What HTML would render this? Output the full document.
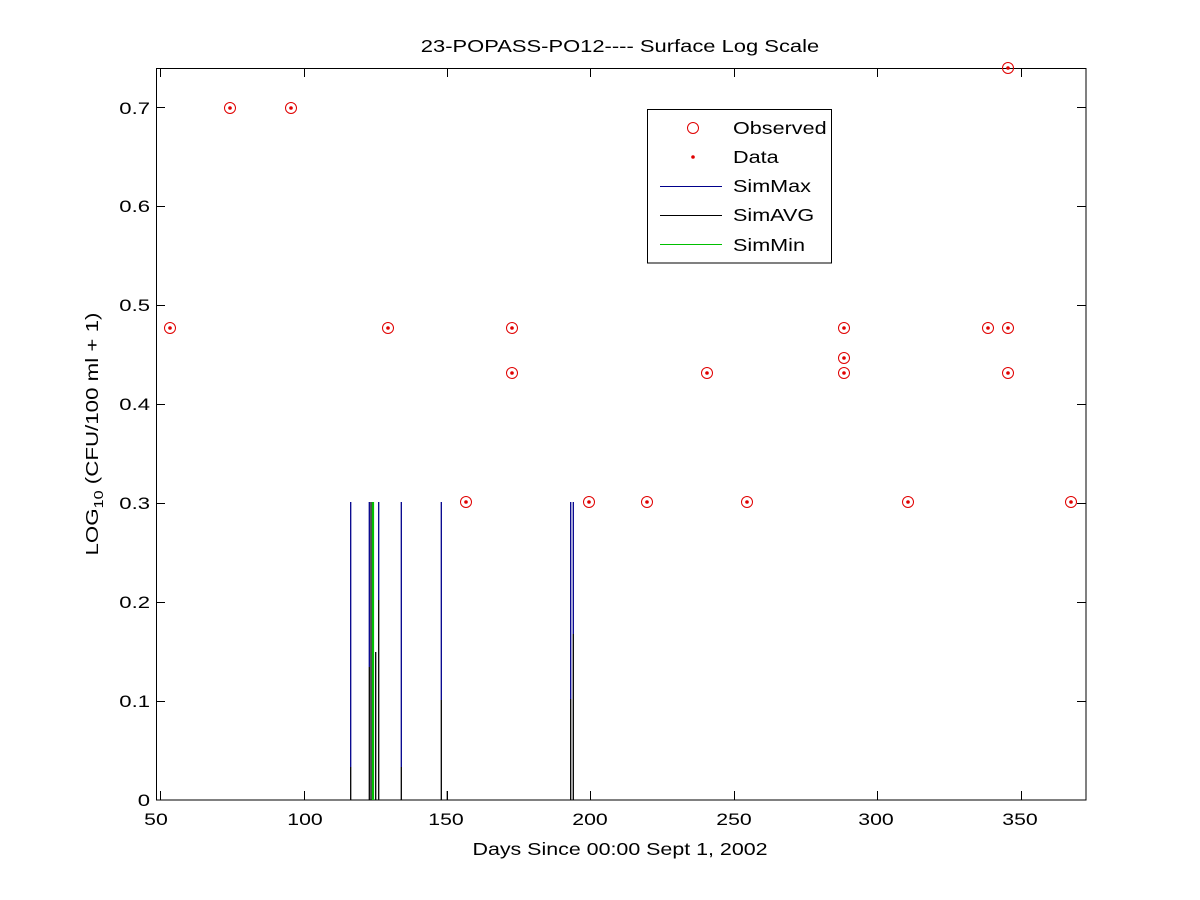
<!DOCTYPE html>
<html><head><meta charset="utf-8"><style>body{margin:0;background:#fff}svg{display:block}text{font-family:"Liberation Sans",Arial,sans-serif;fill:#000}</style></head>
<body>
<svg width="1200" height="900" viewBox="0 0 1200 900" xmlns="http://www.w3.org/2000/svg">
<rect width="1200" height="900" fill="#fff"/>
<rect x="156.5" y="68.5" width="929.5" height="731.5" fill="#fff" stroke="#000" stroke-width="1"/>
<g stroke="#000" stroke-width="1">
<path d="M160.5 800v-9M160.5 68v9M304.5 800v-9M304.5 68v9M447.5 800v-9M447.5 68v9M590.5 800v-9M590.5 68v9M734.5 800v-9M734.5 68v9M877.5 800v-9M877.5 68v9M1021.5 800v-9M1021.5 68v9"/>
<path d="M156 701.5h9M1086 701.5h-9M156 602.5h9M1086 602.5h-9M156 503.5h9M1086 503.5h-9M156 404.5h9M1086 404.5h-9M156 305.5h9M1086 305.5h-9M156 206.5h9M1086 206.5h-9M156 107.5h9M1086 107.5h-9"/>
</g>
<g font-size="17" text-anchor="middle">
<text transform="translate(156,825) scale(1.25,1)">50</text>
<text transform="translate(305,825) scale(1.25,1)">100</text>
<text transform="translate(446,825) scale(1.25,1)">150</text>
<text transform="translate(590,825) scale(1.25,1)">200</text>
<text transform="translate(734,825) scale(1.25,1)">250</text>
<text transform="translate(876,825) scale(1.25,1)">300</text>
<text transform="translate(1020,825) scale(1.25,1)">350</text>
</g>
<g font-size="17" text-anchor="end">
<text transform="translate(150,806) scale(1.3,1)">0</text>
<text transform="translate(150,707) scale(1.3,1)">0.1</text>
<text transform="translate(150,608) scale(1.3,1)">0.2</text>
<text transform="translate(150,509) scale(1.3,1)">0.3</text>
<text transform="translate(150,410) scale(1.3,1)">0.4</text>
<text transform="translate(150,311) scale(1.3,1)">0.5</text>
<text transform="translate(150,212) scale(1.3,1)">0.6</text>
<text transform="translate(150,114) scale(1.3,1)">0.7</text>
</g>
<text transform="translate(620,52) scale(1.22,1)" font-size="18" text-anchor="middle">23-POPASS-PO12---- Surface Log Scale</text>
<text transform="translate(620,855) scale(1.19,1)" font-size="18" text-anchor="middle">Days Since 00:00 Sept 1, 2002</text>
<text transform="translate(98,434) rotate(-90) scale(1.24,1)" font-size="18" text-anchor="middle">LOG<tspan font-size="13" dy="5">10</tspan><tspan dy="-5"> (CFU/100 ml + 1)</tspan></text>
<g stroke-width="1.3">
<path stroke="#00008b" d="M350.7 502V767M369.3 502V667M378.7 502V600M401.3 502V767M441.3 502V700M570.7 502V699M573.3 502V634"/>
<path stroke="#000" d="M350.7 767V800M369.3 667V800M378.7 600V800M401.3 767V800M441.3 700V800M570.7 699V800M573.3 634V800M375.7 652V800M447.3 791V800M371 502V800"/>
<path stroke="#00c000" stroke-width="2.2" d="M373 502V800"/>
</g>
<g fill="none" stroke="#e00000" stroke-width="1">
<circle cx="170" cy="328" r="5.5"/><circle cx="230" cy="108" r="5.5"/><circle cx="291" cy="108" r="5.5"/><circle cx="388" cy="328" r="5.5"/><circle cx="466" cy="502" r="5.5"/><circle cx="512" cy="328" r="5.5"/><circle cx="512" cy="373" r="5.5"/><circle cx="589" cy="502" r="5.5"/><circle cx="647" cy="502" r="5.5"/><circle cx="707" cy="373" r="5.5"/><circle cx="747" cy="502" r="5.5"/><circle cx="844" cy="328" r="5.5"/><circle cx="844" cy="358" r="5.5"/><circle cx="844" cy="373" r="5.5"/><circle cx="908" cy="502" r="5.5"/><circle cx="988" cy="328" r="5.5"/><circle cx="1008" cy="68" r="5.5"/><circle cx="1008" cy="328" r="5.5"/><circle cx="1008" cy="373" r="5.5"/><circle cx="1071" cy="502" r="5.5"/>
</g>
<g fill="#e00000">
<circle cx="170" cy="328" r="1.8"/><circle cx="230" cy="108" r="1.8"/><circle cx="291" cy="108" r="1.8"/><circle cx="388" cy="328" r="1.8"/><circle cx="466" cy="502" r="1.8"/><circle cx="512" cy="328" r="1.8"/><circle cx="512" cy="373" r="1.8"/><circle cx="589" cy="502" r="1.8"/><circle cx="647" cy="502" r="1.8"/><circle cx="707" cy="373" r="1.8"/><circle cx="747" cy="502" r="1.8"/><circle cx="844" cy="328" r="1.8"/><circle cx="844" cy="358" r="1.8"/><circle cx="844" cy="373" r="1.8"/><circle cx="908" cy="502" r="1.8"/><circle cx="988" cy="328" r="1.8"/><circle cx="1008" cy="68" r="1.8"/><circle cx="1008" cy="328" r="1.8"/><circle cx="1008" cy="373" r="1.8"/><circle cx="1071" cy="502" r="1.8"/>
</g>
<rect x="647.5" y="109.5" width="184" height="153.5" fill="#fff" stroke="#000"/>
<circle cx="693" cy="128" r="5.5" fill="none" stroke="#e00000"/>
<circle cx="693" cy="157" r="1.8" fill="#e00000"/>
<path d="M660 186.5h62" stroke="#00008b"/>
<path d="M660 215.5h62" stroke="#000"/>
<path d="M660 244.5h62" stroke="#00c000"/>
<g font-size="18">
<text transform="translate(733,134) scale(1.2,1)">Observed</text>
<text transform="translate(733,163) scale(1.2,1)">Data</text>
<text transform="translate(733,192) scale(1.2,1)">SimMax</text>
<text transform="translate(733,221) scale(1.2,1)">SimAVG</text>
<text transform="translate(733,251) scale(1.2,1)">SimMin</text>
</g>
</svg>
</body></html>
